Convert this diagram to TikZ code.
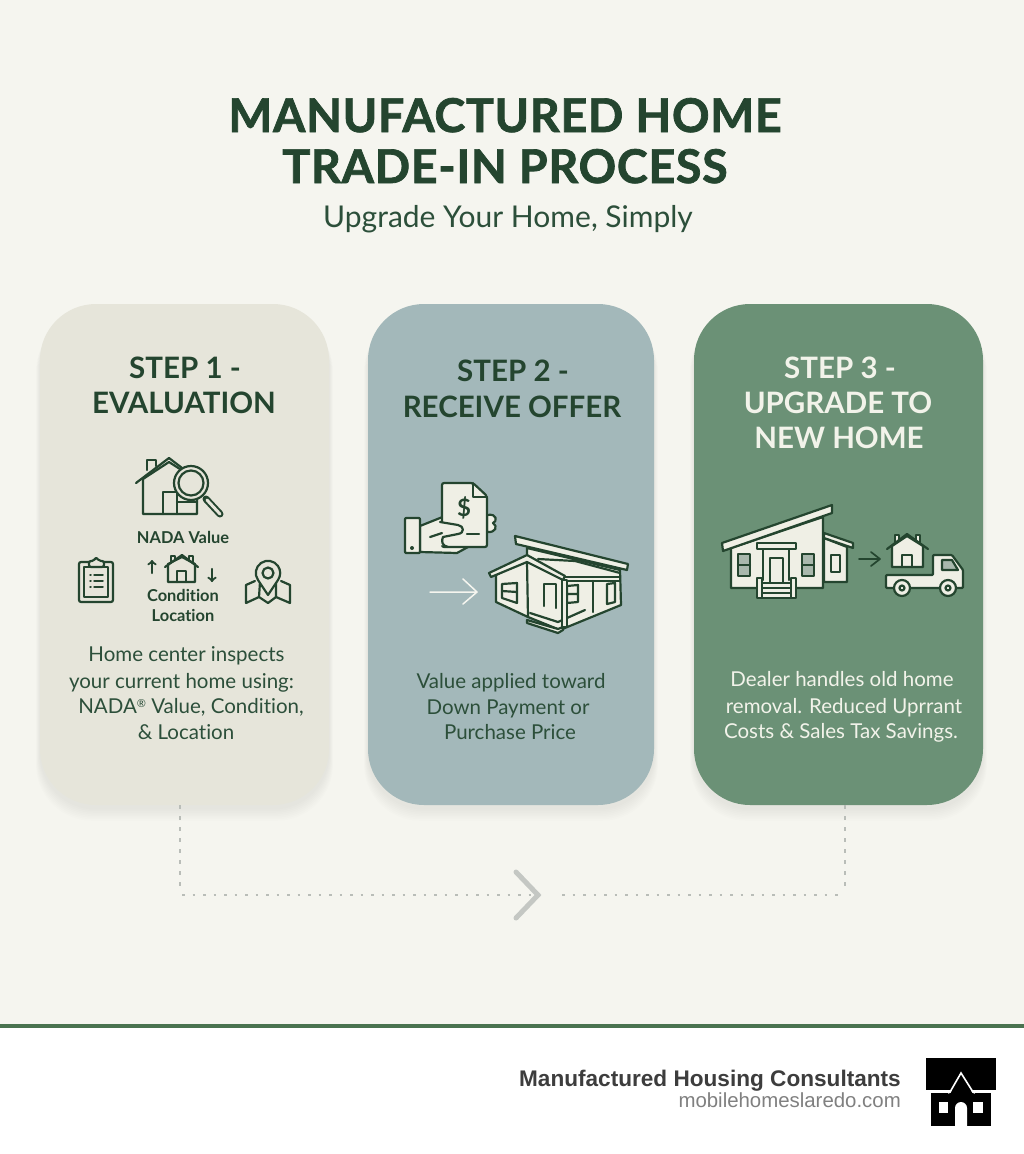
\documentclass[tikz,border=0pt]{standalone}
\usepackage{fontspec}
\setmainfont[Ligatures=NoCommon]{Lato}
\newfontfamily\titlefont[BoldFeatures={FakeBold=1.6,LetterSpace=1.6}]{Lato}
\newfontfamily\footfont{Liberation Sans}
\usetikzlibrary{calc}

\definecolor{paper}{HTML}{F5F5EF}
\definecolor{darkgreen}{HTML}{24452F}
\definecolor{bodygreen}{HTML}{2C4F3A}
\definecolor{cardone}{HTML}{E6E5DA}
\definecolor{cardtwo}{HTML}{A3B8BA}
\definecolor{cardthree}{HTML}{6B9176}
\definecolor{cream}{HTML}{EFEFE5}
\definecolor{paleline}{HTML}{F2F3EA}
\definecolor{barline}{HTML}{4A7350}
\definecolor{dotgrey}{HTML}{B9BDB8}
\definecolor{pane}{HTML}{A9B8AD}

\newcommand{\fsize}[1]{\fontsize{#1}{#1}\selectfont}

\begin{document}
\begin{tikzpicture}
	[
		x = 1pt, y = -1pt,
		card/.style = {shape=rectangle, rounded corners=56pt, inner sep=0pt, minimum width=#1, minimum height=501pt},
		titletext/.style = {anchor=base, text=darkgreen, font=\titlefont\bfseries\fsize{46.5}},
		subtext/.style = {anchor=base, text=bodygreen, font=\fsize{30}},
		headtext/.style = {anchor=base, text=darkgreen, font=\bfseries\fsize{29.5}},
		bodytext/.style = {anchor=base, text=bodygreen, font=\fsize{20.5}},
		smalltext/.style = {anchor=base, text=darkgreen, font=\bfseries\fsize{16.4}},
		foottext/.style = {anchor=base east, inner sep=0pt},
		icon/.style = {draw=darkgreen, fill=cream, line width=2.2pt, line join=round, line cap=round},
		iconone/.style = {icon, fill=cardone},
		iconline/.style = {draw=darkgreen, line width=2.2pt, line join=round, line cap=round},
		dotline/.style = {draw=dotgrey, line width=2.6pt, dash pattern=on 2.6pt off 7.9pt}
	]
	
	\useasboundingbox (0,0) rectangle (1024,1154);
	\fill [paper] (0,0) rectangle (1024,1028);
	\fill [white] (0,1028) rectangle (1024,1154);
	\fill [barline] (0,1024) rectangle (1024,1028);
	
	\node [titletext] (title1) at (505,132) {MANUFACTURED HOME};
	\node [titletext] (title2) at (505,183) {TRADE-IN PROCESS};
	\node [subtext] (subtitle) at (508,227) {Upgrade Your Home, Simply};
	
	\newcommand{\cardshadow}[2]{
		\foreach \s in {1, ..., 8} {
			\fill [black, opacity=.008, rounded corners=56pt] ({#1 - \s*.5}, {312 + \s*.4}) rectangle ({#2 + \s*.5}, {808 + \s*1.6});
		}
	}
	
	\cardshadow{40}{329}
	\cardshadow{368}{654}
	\cardshadow{694}{983}
	
	\node [card=289pt, fill=cardone] (card1) at (184.5,554.5) {};
	\node [card=286pt, fill=cardtwo] (card2) at (511,554.5) {};
	\node [card=289pt, fill=cardthree] (card3) at (838.5,554.5) {};
	
	\node [headtext] (head1a) at (185,378) {STEP 1 -};
	\node [headtext] (head1b) at (184,413) {EVALUATION};
	\node [headtext] (head2a) at (513,381) {STEP 2 -};
	\node [headtext] (head2b) at (512,417) {RECEIVE OFFER};
	\node [headtext, text=paleline] (head3a) at (840,378) {STEP 3 -};
	\node [headtext, text=paleline] (head3b) at (838,413) {UPGRADE TO};
	\node [headtext, text=paleline] (head3c) at (839,448) {NEW HOME};
	
	\foreach \x/\y/\line [count=\i] in {186.5/661/{Home center inspects}, 181.5/688/{your current home using:}, 191/713/{NADA\raisebox{.55ex}{\fsize{11}\textregistered} Value, Condition,}, 186/739/{\& Location}} {
		\node [bodytext] (body1\i) at (\x,\y) {\line};
	}
	\foreach \x/\y/\line [count=\i] in {511/688/{Value applied toward}, 508/714/{Down Payment or}, 510/739/{Purchase Price}} {
		\node [bodytext] (body2\i) at (\x,\y) {\line};
	}
	\foreach \x/\y/\line [count=\i] in {842/686/{Dealer handles old home}, 844/713/{removal. Reduced Uprrant}, 841/738/{Costs \& Sales Tax Savings.}} {
		\node [bodytext, text=paleline] (body3\i) at (\x,\y) {\line};
	}
	
	\node [smalltext] (nada) at (183,543) {NADA Value};
	\node [smalltext] (condition) at (183,601) {Condition};
	\node [smalltext] (location) at (183,621) {Location};
	
	\filldraw [iconone] (147,470) -- (147,460) -- (156,460) -- (156,466);
	\filldraw [iconone] (143,479) -- (143,514) -- (197,514) -- (197,480) -- (169,462) -- cycle;
	\draw [iconline] (136,483) -- (169,458) -- (186,471);
	\draw [iconline] (163,514) -- (163,492) -- (177,492) -- (177,514);
	\draw [iconline] (177,502) -- (197,502);
	\draw [darkgreen, line width=7pt, line cap=round] (206,499) -- (220,514);
	\draw [cardone, line width=3pt, line cap=round] (207,500) -- (220,514);
	\filldraw [iconone] (191,483) circle (17);
	\draw [iconline] (191,483) circle (12.5);
	
	\draw [iconline, ->] (152,573) -- (152,560);
	\draw [iconline, ->] (212,569) -- (212,582);
	\filldraw [iconone] (171,562) -- (171,556) -- (175,556) -- (175,560);
	\filldraw [iconone] (189,560) -- (189,556) -- (193,556) -- (193,562);
	\filldraw [iconone] (168,564) -- (168,582) -- (195,582) -- (195,564) -- (182,557) -- cycle;
	\draw [iconline] (165,567) -- (182,555) -- (198,567);
	\draw [iconline] (177,582) -- (177,571) -- (186,571) -- (186,582);
	
	\filldraw [iconone, rounded corners=2pt] (79,562) rectangle (113,602);
	\draw [iconline] (84,567) rectangle (108,597);
	\filldraw [iconone, rounded corners=2pt] (89,567) -- (89,561) -- (94,561) -- (96,557) -- (99,561) -- (104,561) -- (104,567) -- cycle;
	\foreach \y in {575, 581, 587} {
		\draw [iconline, line width=1.5pt] (90,\y) -- (91,\y);
		\draw [iconline, line width=1.5pt] (94,\y) -- (103,\y);
	}
	
	\draw [iconline] (255,581) -- (246,585) -- (246,603) -- (259,597) -- (268,603) -- (276,597) -- (290,603) -- (290,585) -- (281,581);
	\draw [iconline] (259,597) -- (260,582) (276,597) -- (276,582);
	\filldraw [iconone] (268,595) -- (258,580) arc[start angle=145, end angle=395, radius=12.2] -- cycle;
	\draw [iconline] (268,573) circle (5.5);
	
	\filldraw [icon] (487,515) .. controls (498,513) and (497,522) .. (493,523) .. controls (498,526) and (496,533) .. (487,532) -- cycle;
	\filldraw [icon] (420,526) -- (445,516) -- (475,540) -- (468,547) -- (457,553) -- (420,552) -- cycle;
	\filldraw [icon, rounded corners=2pt] (442,483) -- (473,483) -- (487,496) -- (487,547) -- (442,547) -- cycle;
	\draw [iconline] (473,483) -- (473,497) -- (487,497);
	\fill [cream] (432,526) -- (442,522) -- (458,525) -- (462,530) -- (458,534) -- (443,538) -- (443,545) -- (432,548) -- cycle;
	\draw [iconline] (440,522) -- (458,525) .. controls (464,526) and (465,533) .. (458,534) -- (443,537) .. controls (441,541) and (442,546) .. (448,547);
	\draw [iconline] (430,537) -- (442,533);
	\draw [iconline] (467,534) -- (479,534);
	\node [text=darkgreen, font=\bfseries\fsize{24}] (dollar) at (464,508) {\$};
	\filldraw [icon, rounded corners=1pt] (405,518) rectangle (420,553);
	\fill [darkgreen] (412,548) circle (2);
	
	\draw [paper, line width=1.5pt, line cap=round, line join=round] (430,592) -- (476,592) (463,579) -- (477,592) -- (463,604);
	
	\filldraw [icon] (527,548) -- (620,570) -- (621,605) -- (560,630) -- (528,617) -- (496,602) -- (496,575) -- (527,559) -- cycle;
	\filldraw [icon] (515,536) -- (628,564) -- (627,570) -- (516,544) -- cycle;
	\draw [iconline] (538,559) -- (575,561) -- (620,573);
	\filldraw [icon] (489,573) -- (527,555) -- (565,576) -- (563,580) -- (527,562) -- (491,577) -- cycle;
	\draw [iconline] (527,562) -- (528,617);
	\draw [iconline] (565,577) -- (620,577) (564,581) -- (620,581);
	\draw [iconline] (502,584) -- (517,583) -- (517,603) -- (502,598) -- cycle (502,591) -- (517,592);
	\draw [iconline] (544,606) -- (544,584) -- (556,584) -- (556,608);
	\draw [iconline] (567,586) -- (578,585) -- (578,602) -- (567,603) -- cycle (567,594) -- (578,594);
	\draw [iconline] (607,584) -- (615,583) -- (615,602) -- (607,604) -- cycle;
	\draw [iconline] (530,613) -- (558,622) -- (585,610);
	\filldraw [icon] (562,580) rectangle (567,627);
	\draw [iconline] (593,581) -- (593,612);
	\filldraw [icon] (527,620) -- (558,629) -- (563,627) -- (563,630) -- (558,633) -- (527,623) -- cycle;
	
	\filldraw [icon] (824,538) -- (847,547) -- (847,582) -- (824,582) -- cycle;
	\filldraw [icon] (824,533) -- (853,543) -- (853,548) -- (824,538) -- cycle;
	\filldraw [icon] (831,555) rectangle (840,572);
	\filldraw [icon] (731,548) -- (823,517) -- (823,588) -- (731,588) -- cycle;
	\filldraw [icon] (722,543) -- (832,505) -- (832,513) -- (723,551) -- cycle;
	\foreach \x in {738, 802} {
		\filldraw [icon, fill=pane] (\x,554) rectangle ({\x + 12},576);
		\draw [iconline] (\x,565) -- ({\x + 12},565);
	}
	\draw [iconline] (763,549) -- (763,580) (789,549) -- (789,580);
	\filldraw [icon] (757,543) rectangle (796,549);
	\draw [iconline] (770,582) -- (770,558) -- (783,558) -- (783,582);
	\filldraw [icon] (757,578) rectangle (762,598);
	\filldraw [icon] (791,578) rectangle (796,598);
	\filldraw [icon] (762,583) rectangle (791,598);
	\foreach \y in {588, 593} { \draw [iconline, line width=1.5pt] (762,\y) -- (791,\y); }
	
	\draw [darkgreen, line width=1.7pt, line cap=round, line join=round] (859,559) -- (879,559) (871,552) -- (880,559) -- (871,566);
	
	\filldraw [icon] (895,542) -- (895,535) -- (899,535) -- (899,540);
	\filldraw [icon] (916,540) -- (916,535) -- (920,535) -- (920,542);
	\filldraw [icon] (892,546) -- (892,567) -- (923,567) -- (923,546) -- (907,536) -- cycle;
	\draw [iconline] (887,549) -- (907,534) -- (928,549);
	\draw [iconline] (902,567) -- (902,555) -- (912,555) -- (912,567);
	\filldraw [icon, rounded corners=1pt] (886,575) -- (933,575) -- (933,555) -- (952,555) -- (963,570) -- (963,588) -- (886,588) -- cycle;
	\filldraw [icon, fill=pane] (942,560) -- (952,560) -- (958,570) -- (942,570) -- cycle;
	\foreach \x in {902, 948} {
		\filldraw [icon] (\x,588) circle (8);
		\filldraw [icon] (\x,588) circle (2.5);
	}
	
	\coordinate (turnL) at (180,895);
	\coordinate (turnR) at (845,895);
	\coordinate (chevtip) at (538,895);
	\coordinate (gapR) at (562,895);
	\draw [dotline, dash pattern=on 4pt off 7pt] (card1.south -| turnL) -- ++(0,85);
	\draw [dotline] ($(turnL) + (2,0)$) -- (chevtip);
	\draw [dotline] (gapR) -- ($(turnR) + (-2,0)$);
	\draw [dotline, dash pattern=on 4pt off 7pt] (card3.south -| turnR) -- ++(0,85);
	\draw [dotgrey!85, line width=5pt, line cap=round, line join=miter] ($(chevtip) + (-22,-23)$) -- (chevtip) -- ($(chevtip) + (-22,23)$);
	
	\node [foottext, text=black!76, font=\footfont\bfseries\fsize{22.6}] (brand) at (901,1086) {Manufactured Housing Consultants};
	\node [foottext, text=black!50, font=\footfont\fsize{20.4}] (site) at (901,1107) {mobilehomeslaredo.com};
	
	\fill [black] (926,1058) rectangle (996,1090);
	\fill [black] (931,1093) rectangle (991,1126);
	\fill [black] (950,1094) -- (961,1073) -- (973,1094) -- cycle;
	\draw [white, line width=1.6pt, line join=miter] (948,1093) -- (950,1092) -- (961,1073) -- (973,1092) -- (975,1093);
	\fill [white] (939,1102) rectangle (948,1113);
	\fill [white] (973,1102) rectangle (983,1113);
	\fill [white] (955,1126) -- (955,1108) arc[start angle=180, end angle=360, radius=6] -- (967,1126) -- cycle;
\end{tikzpicture}
\end{document}
